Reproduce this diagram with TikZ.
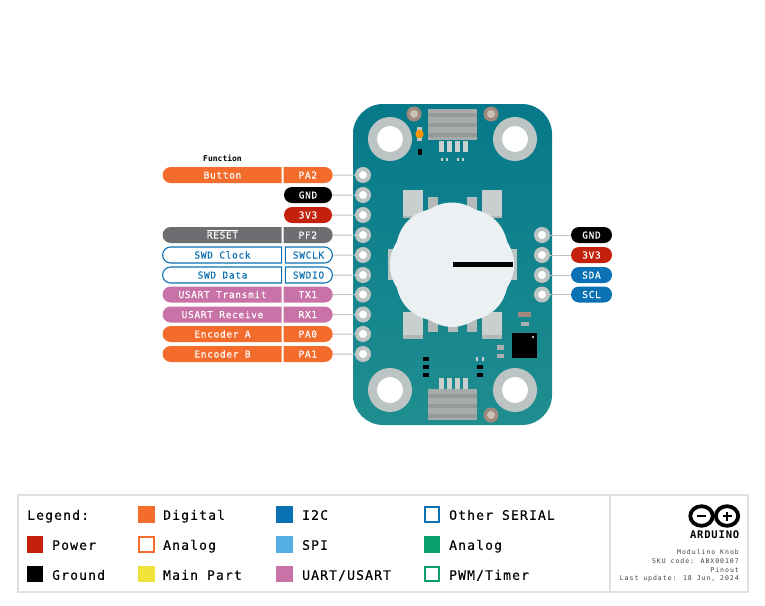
\documentclass[tikz,border=0pt]{standalone}
\usepackage{fontspec}
\setmonofont{DejaVu Sans Mono}
\newfontfamily\pinFont{DejaVu Sans Mono}[LetterSpace=7,FakeBold=0.25]
\newfontfamily\legendFont{DejaVu Sans Mono}[LetterSpace=9,FakeBold=0.25]
\newfontfamily\smallFont{DejaVu Sans Mono}[LetterSpace=15]
\newfontfamily\logoFont{DejaVu Sans Mono Bold}[LetterSpace=8]
\usetikzlibrary{shapes.misc}
\definecolor{boardTop}{HTML}{06798A}
\definecolor{boardBottom}{HTML}{1F8E90}
\definecolor{padGray}{HTML}{BDC4C4}
\definecolor{padLight}{HTML}{C9CFCF}
\definecolor{knobWhite}{HTML}{EBF1F3}
\definecolor{digitalOrange}{HTML}{F46C2B}
\definecolor{powerRed}{HTML}{C4210D}
\definecolor{resetGray}{HTML}{6D6E71}
\definecolor{uartPink}{HTML}{C872A8}
\definecolor{serialBlue}{HTML}{0A71B3}
\definecolor{spiBlue}{HTML}{56B0E6}
\definecolor{mainYellow}{HTML}{EFE33C}
\definecolor{analogGreen}{HTML}{0AA06E}
\definecolor{frameGray}{HTML}{E0E0E0}
\definecolor{brownPad}{HTML}{A08A7D}
\definecolor{brownCore}{HTML}{CBC0B4}
\definecolor{headerBase}{HTML}{A6ABAB}
\definecolor{headerBand}{HTML}{94999A}
\begin{document}
\begin{tikzpicture}[x=1pt,y=-1pt,%%
  pinStyle/.style={circle,draw=padGray,line width=4pt,fill=white,minimum size=12pt,inner sep=0pt},%%
  holeStyle/.style={circle,draw=padGray,line width=9pt,fill=white,minimum size=35pt,inner sep=0pt},%%
  wireStyle/.style={-,draw=padGray,line width=1pt},%%
  pillStyle/.style={rounded rectangle,minimum height=16pt,inner sep=0pt,text height=7pt,text depth=0pt,font=\pinFont\fontsize{9.5}{10}\selectfont,text=white},%%
  funcStyle/.style={pillStyle,rounded rectangle right arc=none,minimum width=119pt},%%
  nameStyle/.style={pillStyle,rounded rectangle left arc=none,minimum width=49pt},%%
  fullStyle/.style={pillStyle,minimum width=48pt},%%
  sideStyle/.style={pillStyle,minimum width=41pt},%%
  serialStyle/.style={fill=white,draw=serialBlue,line width=1.1pt,text=serialBlue},%%
  swatchStyle/.style={minimum size=16.5pt,inner sep=0pt},%%
  hollowStyle/.style={minimum size=14.5pt,inner sep=0pt,fill=white,line width=1.6pt},%%
  legendStyle/.style={anchor=west,inner sep=0pt,text height=9.5pt,text depth=0pt,font=\legendFont\fontsize{13}{14}\selectfont},%%
  infoStyle/.style={anchor=east,inner sep=0pt,font=\smallFont\fontsize{6.5}{7}\selectfont,text=black!75},%%
  chipStyle/.style={fill=black}
]
\useasboundingbox (0,0) rectangle (765,605);
%%
%% Board outline and mounting holes.
\shade[top color=boardTop,bottom color=boardBottom,rounded corners=30pt] (353,104) rectangle (552,425);
\node[holeStyle] (holeA) at (390,139) {};
\node[holeStyle] (holeB) at (515,139) {};
\node[holeStyle] (holeC) at (390,390) {};
\node[holeStyle] (holeD) at (515,390) {};
%%
%% Top connector.
\fill[headerBase] (428,109) rectangle (477,140);
\foreach \y in {113,123,133} \fill[headerBand] (428,\y) rectangle (477,\y+4);
\foreach \x in {439,447,455,463} \fill[padLight] (\x,141) rectangle (\x+4.5,152);
\foreach \x in {441,446,457,462} \fill[padLight] (\x,158) rectangle (\x+1.5,161);
%% Bottom connector.
\fill[headerBase] (428,389) rectangle (477,420);
\foreach \y in {394,404,414} \fill[headerBand] (428,\y) rectangle (477,\y+4);
\foreach \x in {439,447,455,463} \fill[padLight] (\x,378) rectangle (\x+4.5,389);
%% Brown pads and small parts.
\foreach \x/\y in {414/114,491/114,491/415} {
  \fill[brownPad] (\x,\y) circle (7.5pt);
  \fill[brownCore] (\x,\y) circle (4pt);
}
\fill[padGray] (417,127) rectangle (422,141);
\fill[orange!85!yellow] (419.5,134) circle (4.2pt);
\fill[chipStyle] (418,149) rectangle (422,155);
\foreach \y in {358.5,367,375} \fill[chipStyle] (423,\y-2) rectangle (429,\y+2);
\foreach \y in {367,375} \fill[chipStyle] (476.5,\y-2) rectangle (483,\y+2);
\foreach \x in {476,482} \fill[padLight] (\x,357) rectangle (\x+1.5,361);
\fill[chipStyle] (512,333) rectangle (537,358);
\fill[white] (533,337) circle (1.2pt);
\fill[brownPad] (518,312) rectangle (531,317);
\fill[padGray!70!gray] (521,322) rectangle (529,326);
\fill[padGray!70!gray] (497,345) rectangle (504,350);
\fill[padGray!70!gray] (497,354) rectangle (504,358);
%%
%% Pads around the knob.
\foreach \x in {403,482} {
  \fill[padLight] (\x,190) rectangle (\x+20,216);
  \fill[padGray!80!gray] (\x,216) rectangle (\x+20,218);
  \fill[padLight] (\x,312) rectangle (\x+20,339);
  \fill[padGray!80!gray] (\x,335) rectangle (\x+20,339);
}
\foreach \x in {428,467} \fill[padGray!85!gray] (\x,197) rectangle (\x+10,212);
\foreach \x in {428,447.5,467} \fill[padGray!85!gray] (\x,318) rectangle (\x+10,332);
\fill[padGray] (388,249) rectangle (395,280);
\fill[padGray] (510,249) rectangle (517,280);
%% The knob with its bumpy rim.
\fill[knobWhite,shift={(452,264.7)}] plot[smooth cycle,samples=144,domain=0:357.5] (\x:{59.7+2.5*abs(cos(4*\x))});
\fill[black] (453,262.3) rectangle (513,267);
%%
%% Pins of the board.
\foreach \n/\y in {1/175,2/195,3/215,4/235,5/255,6/275,7/294.5,8/314.5,9/334,10/354} {
  \node[pinStyle] (pinL\n) at (363,\y) {};
}
\foreach \n/\y in {1/235,2/255,3/275,4/294.5} {
  \node[pinStyle] (pinR\n) at (542,\y) {};
}
%%
%% Labels of the left header.
\node[font=\ttfamily\bfseries\fontsize{8}{9}\selectfont] (function) at (222.5,158) {Function};
\node[funcStyle,fill=digitalOrange] (button) at (222.5,175) {Button};
\node[nameStyle,fill=digitalOrange] (pa2) at (307.8,175) {PA2};
\node[fullStyle,fill=black] (gndL) at (308,195) {GND};
\node[fullStyle,fill=powerRed] (vccL) at (308,215) {3V3};
\node[funcStyle,fill=resetGray] (reset) at (222.5,235) {$\overline{\mbox{RESET}}$};
\node[nameStyle,fill=resetGray] (pf2) at (307.8,235) {PF2};
\node[funcStyle,serialStyle] (swdClock) at (222.5,255) {SWD Clock};
\node[nameStyle,serialStyle,minimum width=47pt] (swclk) at (308.5,255) {SWCLK};
\node[funcStyle,serialStyle] (swdData) at (222.5,275) {SWD Data};
\node[nameStyle,serialStyle,minimum width=47pt] (swdio) at (308.5,275) {SWDIO};
\node[funcStyle,fill=uartPink] (usartT) at (222.5,294.5) {USART Transmit};
\node[nameStyle,fill=uartPink] (tx1) at (307.8,294.5) {TX1};
\node[funcStyle,fill=uartPink] (usartR) at (222.5,314.5) {USART Receive};
\node[nameStyle,fill=uartPink] (rx1) at (307.8,314.5) {RX1};
\node[funcStyle,fill=digitalOrange] (encA) at (222.5,334) {Encoder A};
\node[nameStyle,fill=digitalOrange] (pa0) at (307.8,334) {PA0};
\node[funcStyle,fill=digitalOrange] (encB) at (222.5,354) {Encoder B};
\node[nameStyle,fill=digitalOrange] (pa1) at (307.8,354) {PA1};
%% Labels of the right header.
\node[sideStyle,fill=black] (gndR) at (591.5,235) {GND};
\node[sideStyle,fill=powerRed] (vccR) at (591.5,255) {3V3};
\node[sideStyle,fill=serialBlue] (sda) at (591.5,275) {SDA};
\node[sideStyle,fill=serialBlue] (scl) at (591.5,294.5) {SCL};
%% Wires from labels to pins.
\foreach \a/\b in {pa2/pinL1,gndL/pinL2,vccL/pinL3,pf2/pinL4,swclk/pinL5,swdio/pinL6,tx1/pinL7,rx1/pinL8,pa0/pinL9,pa1/pinL10,pinR1/gndR,pinR2/vccR,pinR3/sda,pinR4/scl} {
  \draw[wireStyle] (\a) -- (\b);
}
%%
%% Legend frame.
\draw[frameGray,line width=1.3pt] (18,495) rectangle (748,592);
\draw[frameGray,line width=1.3pt] (610,495) -- (610,592);
\node[legendStyle] (legend) at (27,515) {Legend:};
\node[swatchStyle,fill=powerRed] (swPower) at (35,544.5) {};
\node[legendStyle] (txPower) at (52,545) {Power};
\node[swatchStyle,fill=black] (swGround) at (35,574) {};
\node[legendStyle] (txGround) at (52,575) {Ground};
\node[swatchStyle,fill=digitalOrange] (swDigital) at (146.5,514.5) {};
\node[legendStyle] (txDigital) at (163,515) {Digital};
\node[hollowStyle,draw=digitalOrange] (swAnalogA) at (146.5,544.5) {};
\node[legendStyle] (txAnalogA) at (163,545) {Analog};
\node[swatchStyle,fill=mainYellow] (swMain) at (146.5,574) {};
\node[legendStyle] (txMain) at (163,575) {Main Part};
\node[swatchStyle,fill=serialBlue] (swI2c) at (284.5,514.5) {};
\node[legendStyle] (txI2c) at (302,515) {I2C};
\node[swatchStyle,fill=spiBlue] (swSpi) at (284.5,544.5) {};
\node[legendStyle] (txSpi) at (302,545) {SPI};
\node[swatchStyle,fill=uartPink] (swUart) at (284.5,574) {};
\node[legendStyle] (txUart) at (302,575) {UART/USART};
\node[hollowStyle,draw=serialBlue] (swSerial) at (432,514.5) {};
\node[legendStyle] (txSerial) at (449,515) {Other SERIAL};
\node[swatchStyle,fill=analogGreen] (swAnalogB) at (432,544.5) {};
\node[legendStyle] (txAnalogB) at (449,545) {Analog};
\node[hollowStyle,draw=analogGreen] (swPwm) at (432,574) {};
\node[legendStyle] (txPwm) at (449,575) {PWM/Timer};
%%
%% Logo and product data.
\draw[black,line width=3.8pt] (701.5,516) ellipse (11.2pt and 9.8pt);
\draw[black,line width=3.8pt] (727,516) ellipse (11.2pt and 9.8pt);
\fill[black] (697,515) rectangle (705.5,517.2);
\fill[black] (722.5,515) rectangle (731.5,517.2);
\fill[black] (725.9,511.5) rectangle (728.1,520.5);
\node[anchor=east,inner sep=0pt,font=\logoFont\fontsize{10.5}{11}\selectfont] (logoText) at (739.5,535) {ARDUINO};
\node[infoStyle] (infoA) at (739,552) {Modulino Knob};
\node[infoStyle] (infoB) at (739,561) {SKU code: ABX00107};
\node[infoStyle] (infoC) at (739,570) {Pinout};
\node[infoStyle] (infoD) at (739,579) {Last update: 18 Jun, 2024};
\end{tikzpicture}
\end{document}
